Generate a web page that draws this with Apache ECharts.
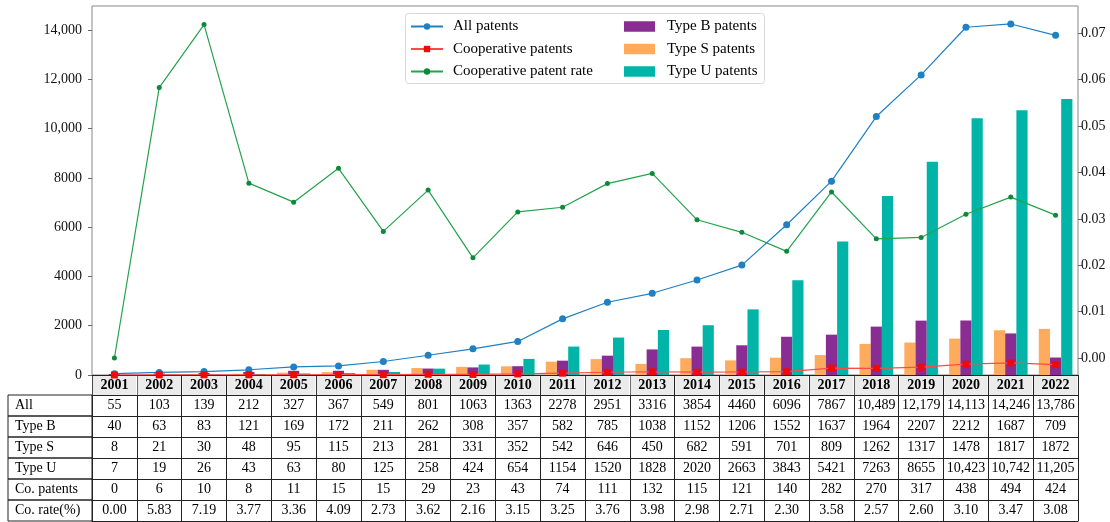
<!DOCTYPE html>
<html>
<head>
<meta charset="utf-8">
<script src="https://cdn.jsdelivr.net/npm/echarts@6/dist/echarts.min.js"></script>
<style>html,body{margin:0;padding:0;background:#fff;}#c{width:1110px;height:522px;}</style>
</head>
<body>
<div id="c"></div>
<script>
const years = ['2001','2002','2003','2004','2005','2006','2007','2008','2009','2010','2011','2012','2013','2014','2015','2016','2017','2018','2019','2020','2021','2022'];
const allPat = [55,103,139,212,327,367,549,801,1063,1363,2278,2951,3316,3854,4460,6096,7867,10489,12179,14113,14246,13786];
const typeB = [40,63,83,121,169,172,211,262,308,357,582,785,1038,1152,1206,1552,1637,1964,2207,2212,1687,709];
const typeS = [8,21,30,48,95,115,213,281,331,352,542,646,450,682,591,701,809,1262,1317,1478,1817,1872];
const typeU = [7,19,26,43,63,80,125,258,424,654,1154,1520,1828,2020,2663,3843,5421,7263,8655,10423,10742,11205];
const coPat = [0,6,10,8,11,15,15,29,23,43,74,111,132,115,121,140,282,270,317,438,494,424];
const coRate = [0.00,5.83,7.19,3.77,3.36,4.09,2.73,3.62,2.16,3.15,3.25,3.76,3.98,2.98,2.71,2.30,3.58,2.57,2.60,3.10,3.47,3.08];
const rowLabels = ['All','Type B','Type S','Type U','Co. patents','Co. rate(%)'];
const leftTicks = [0,2000,4000,6000,8000,10000,12000,14000];
const rightTicks = [0,1,2,3,4,5,6,7];

const FONT = 'Liberation Serif';
const fmtNum = v => v >= 10000 ? v.toLocaleString('en-US') : String(v);
const rows = [
  allPat.map(fmtNum), typeB.map(fmtNum), typeS.map(fmtNum), typeU.map(fmtNum),
  coPat.map(fmtNum), coRate.map(v => v.toFixed(2))
];

const LINE = '#222';
const xAxes = [];
xAxes.push({
  type: 'category', data: years, gridIndex: 0, position: 'bottom', offset: 0,
  axisLine: {show: true, lineStyle: {color: LINE, width: 1}},
  axisTick: {show: true, length: 20, interval: 0, lineStyle: {color: LINE}},
  axisLabel: {interval: 0, margin: 1, fontFamily: FONT, fontSize: 14, fontWeight: 'bold', color: '#000',
    backgroundColor: '#ebebeb', width: 43.2, height: 19, lineHeight: 19, align: 'center', verticalAlign: 'top'},
  splitLine: {show: false}
});
const offsets = [20, 41, 62, 83, 104, 125];
rows.forEach((r, k) => {
  xAxes.push({
    type: 'category', data: years, gridIndex: 0, position: 'bottom', offset: offsets[k],
    name: '{c|' + rowLabels[k] + '}', nameLocation: 'start', nameGap: 84,
    nameTextStyle: {align: 'left', verticalAlign: 'top', padding: [0, 0, 0, 7], borderColor: LINE, borderWidth: 1,
      rich: {c: {width: 77, height: 21, lineHeight: 21, fontFamily: FONT, fontSize: 14, color: '#000', align: 'left'}}},
    axisLine: {show: true, lineStyle: {color: LINE, width: 1}},
    axisTick: {show: true, length: 21, interval: 0, lineStyle: {color: LINE}},
    axisLabel: {interval: 0, margin: 0, fontFamily: FONT, fontSize: 14, color: '#000',
      formatter: (v, i) => r[i], lineHeight: 21, height: 21, verticalAlign: 'top', align: 'center'},
    splitLine: {show: false}
  });
});
xAxes.push({
  type: 'category', data: years, gridIndex: 0, position: 'bottom', offset: 146,
  axisLine: {show: true, lineStyle: {color: LINE, width: 1}},
  axisTick: {show: false}, axisLabel: {show: false}, splitLine: {show: false}
});
xAxes.push({type: 'category', data: years, gridIndex: 1, show: false});
const rateX = xAxes.length - 1;

const chart = echarts.init(document.getElementById('c'), null, {renderer: 'canvas'});
chart.setOption({
  animation: false,
  backgroundColor: '#fff',
  textStyle: {fontFamily: FONT},
  grid: [
    {left: 92, right: 32, top: 6, bottom: 147, show: true, borderColor: '#888', borderWidth: 1, backgroundColor: 'transparent', outerBoundsMode: 'none'},
    {left: 92, right: 32, top: 6, bottom: 164, show: false, outerBoundsMode: 'none'}
  ],
  legend: [
    {data: ['All patents','Cooperative patents','Cooperative patent rate'], orient: 'vertical', left: 405, top: 14,
      itemWidth: 32, itemHeight: 8, itemGap: 7.5,
      textStyle: {fontFamily: FONT, fontSize: 15, color: '#000', lineHeight: 14, padding: [0,0,0,5]}},
    {data: ['Type B patents','Type S patents','Type U patents'], orient: 'vertical', left: 619, top: 14,
      itemWidth: 31, itemHeight: 10.5, itemGap: 7.5, icon: 'rect',
      textStyle: {fontFamily: FONT, fontSize: 15, color: '#000', lineHeight: 14, padding: [0,0,0,7]}}
  ],
  graphic: [{type: 'rect', shape: {x: 405.5, y: 13.5, width: 359, height: 70, r: 3}, z: -1,
    style: {fill: 'rgba(255,255,255,0.85)', stroke: '#d8d8d8', lineWidth: 1}}],
  xAxis: xAxes,
  yAxis: [
    {type: 'value', gridIndex: 0, position: 'left', min: 0, max: 14975, interval: 2000,
      axisLine: {show: false}, splitLine: {show: false},
      axisTick: {show: true, length: 4, lineStyle: {color: '#666'}},
      axisLabel: {margin: 10, fontFamily: FONT, fontSize: 14, color: '#111', showMaxLabel: false,
        formatter: v => leftTicks.includes(v) ? fmtNum(v) : ''}},
    {type: 'value', gridIndex: 1, position: 'right', min: 0, max: 7.59, interval: 1,
      axisLine: {show: false}, splitLine: {show: false},
      axisTick: {show: true, length: 4, lineStyle: {color: '#666'}},
      axisLabel: {margin: 3, fontFamily: FONT, fontSize: 14, color: '#111', showMaxLabel: false,
        formatter: v => rightTicks.includes(v) ? (v / 100).toFixed(2) : ''}}
  ],
  series: [
    {name: 'Type S patents', type: 'bar', data: typeS, xAxisIndex: 0, yAxisIndex: 0, barGap: '0%', barCategoryGap: '25%',
      itemStyle: {color: '#ffab5e'}, z: 2},
    {name: 'Type B patents', type: 'bar', data: typeB, xAxisIndex: 0, yAxisIndex: 0, barGap: '0%', barCategoryGap: '25%',
      itemStyle: {color: '#8a2d92'}, z: 2},
    {name: 'Type U patents', type: 'bar', data: typeU, xAxisIndex: 0, yAxisIndex: 0, barGap: '0%', barCategoryGap: '25%',
      itemStyle: {color: '#00b5a8'}, z: 2},
    {name: 'All patents', type: 'line', data: allPat, xAxisIndex: 0, yAxisIndex: 0, symbol: 'circle', symbolSize: 7,
      lineStyle: {color: '#1f80c2', width: 1.2}, itemStyle: {color: '#1f80c2'}, z: 5},
    {name: 'Cooperative patents', type: 'line', data: coPat, xAxisIndex: 0, yAxisIndex: 0, symbol: 'rect', symbolSize: 7,
      lineStyle: {color: '#ff4a4a', width: 1.2}, itemStyle: {color: '#ee0a0a'}, z: 6},
    {name: 'Cooperative patent rate', type: 'line', data: coRate, xAxisIndex: rateX, yAxisIndex: 1, symbol: 'circle', symbolSize: 5,
      lineStyle: {color: '#22a34c', width: 1.2}, itemStyle: {color: '#0b8a3c'}, z: 4}
  ]
});
</script>
</body>
</html>
